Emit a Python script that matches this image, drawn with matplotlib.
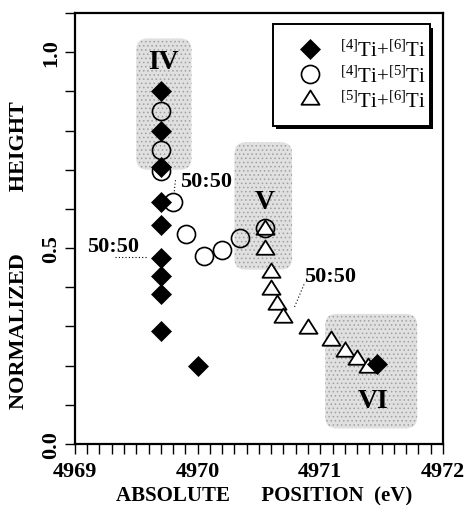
import matplotlib
matplotlib.use("Agg")
import matplotlib.pyplot as plt
from matplotlib.patches import FancyBboxPatch, Rectangle
from matplotlib.path import Path
from matplotlib.ticker import MultipleLocator, FixedLocator

plt.rcParams['font.family'] = ['Liberation Serif', 'DejaVu Serif']
plt.rcParams['mathtext.fontset'] = 'custom'
plt.rcParams['mathtext.rm'] = 'Liberation Serif'
plt.rcParams['mathtext.default'] = 'regular'
plt.rcParams['hatch.linewidth'] = 0.6

# ---- data ----
dia_x = [4969.70, 4969.70, 4969.70, 4969.70, 4969.70, 4969.70, 4969.70, 4969.70, 4969.70, 4970.00, 4971.46]
dia_y = [0.90, 0.80, 0.708, 0.618, 0.559, 0.475, 0.429, 0.383, 0.289, 0.198, 0.204]

circ_x = [4969.70, 4969.70, 4969.70, 4969.80, 4969.905, 4970.05, 4970.20, 4970.345, 4970.55]
circ_y = [0.850, 0.750, 0.697, 0.618, 0.537, 0.479, 0.496, 0.526, 0.550]

tri_x = [4970.55, 4970.55, 4970.595, 4970.60, 4970.65, 4970.70, 4970.90, 4971.09, 4971.20, 4971.30, 4971.39]
tri_y = [0.548, 0.497, 0.438, 0.395, 0.357, 0.323, 0.296, 0.266, 0.238, 0.217, 0.196]

labels = [r'$^{[4]}$Ti+$^{[6]}$Ti', r'$^{[4]}$Ti+$^{[5]}$Ti', r'$^{[5]}$Ti+$^{[6]}$Ti']

# shaded regions: (x0, y0, x1, y1, label, label_x, label_y)
regions = [
    (4969.50, 0.700, 4969.95, 1.035, 'IV', 4969.72, 0.975),
    (4970.30, 0.445, 4970.77, 0.770, 'V', 4970.55, 0.620),
    (4971.04, 0.040, 4971.79, 0.332, 'VI', 4971.43, 0.110),
]

# 50:50 annotations: text position, leader line start/end
ann_text = [(4970.07, 0.670), (4969.31, 0.505), (4971.08, 0.430)]
ann_line = [((4969.81, 0.645), (4969.82, 0.675)),
            ((4969.33, 0.476), (4969.59, 0.476)),
            ((4970.79, 0.350), (4970.875, 0.413))]

xticks = [4969, 4970, 4971, 4972]
yticks = [0.0, 0.5, 1.0]
ytick_labels = ['0.0', '0.5', '1.0']

# ---- figure ----
fig = plt.figure(figsize=(4.71, 5.06), dpi=100)
ax = fig.add_axes([0.159, 0.1206, 0.7816, 0.8517])
ax.set_xlim(4969, 4972)
ax.set_ylim(0, 1.1)

aspect = (1.1 / 431.0) / (3.0 / 368.0)
for x0, y0, x1, y1, lab, lx, ly in regions:
    p = FancyBboxPatch((x0, y0), x1 - x0, y1 - y0,
                       boxstyle='round,pad=0,rounding_size=0.09',
                       mutation_aspect=aspect,
                       facecolor='#e0e0e0', edgecolor='#a0a0a0', linewidth=0,
                       hatch='....', zorder=0.5)
    ax.add_patch(p)
    ax.text(lx, ly, lab, fontsize=20, fontweight='bold', ha='center', va='center', zorder=5)

for (tx, ty), ((lx0, ly0), (lx1, ly1)) in zip(ann_text, ann_line):
    ax.text(tx, ty, '50:50', fontsize=16, fontweight='bold', ha='center', va='center', zorder=5)
    ax.plot([lx0, lx1], [ly0, ly1], ls=(0, (1, 2)), color='black', lw=0.8, zorder=1)

tri_path = Path([(-1, -0.58), (1, -0.58), (0, 1.0), (-1, -0.58)],
                [Path.MOVETO, Path.LINETO, Path.LINETO, Path.CLOSEPOLY])

ax.plot(tri_x, tri_y, ls='none', marker=tri_path, ms=13, mfc='white', mec='black', mew=1.3,
        label=labels[2], zorder=3)
ax.plot(circ_x, circ_y, ls='none', marker='o', ms=13, mfc='none', mec='black', mew=1.2,
        label=labels[1], zorder=4)
ax.plot(dia_x, dia_y, ls='none', marker='D', ms=10, mfc='black', mec='black', mew=0.5,
        label=labels[0], zorder=3.5)

# legend frame with solid black drop shadow
lx0, lx1, ly0, ly1 = 0.538, 0.965, 0.738, 0.974
ax.add_patch(Rectangle((lx0 + 0.009, ly0 - 0.008), lx1 - lx0, ly1 - ly0, transform=ax.transAxes,
                       facecolor='black', edgecolor='black', lw=0, zorder=6))
ax.add_patch(Rectangle((lx0, ly0), lx1 - lx0, ly1 - ly0, transform=ax.transAxes,
                       facecolor='white', edgecolor='black', lw=1.4, zorder=6.1))

h, l = ax.get_legend_handles_labels()
order = [2, 1, 0]
leg = ax.legend([h[i] for i in order], [l[i] for i in order],
                loc='upper left', bbox_to_anchor=(0.599, 0.938), borderaxespad=0,
                frameon=False, prop={'size': 15}, handletextpad=0.72, borderpad=0,
                labelspacing=0.2, handlelength=1.4)
leg.set_zorder(7)

for s in ax.spines.values():
    s.set_linewidth(1.6)

ax.xaxis.set_major_locator(FixedLocator(xticks))
ax.xaxis.set_minor_locator(MultipleLocator(0.1))
ax.yaxis.set_major_locator(FixedLocator(yticks))
ax.yaxis.set_minor_locator(MultipleLocator(0.1))
ax.set_yticklabels(ytick_labels)
ax.tick_params(which='both', direction='out', length=7, width=1.0)
ax.tick_params(axis='x', which='major', pad=5, labelsize=16)
ax.tick_params(axis='y', which='major', pad=3, labelsize=16, labelrotation=90)
for t in ax.get_xticklabels() + ax.get_yticklabels():
    t.set_fontweight('bold')
for t in ax.get_yticklabels():
    t.set_va('center')

ax.set_xlabel('ABSOLUTE      POSITION  (eV)', fontsize=15, fontweight='bold')
ax.xaxis.set_label_coords(0.513, -0.096)
ax.set_ylabel('NORMALIZED           HEIGHT', fontsize=16, fontweight='bold')
ax.yaxis.set_label_coords(-0.125, 0.44)

fig.savefig('out.png', dpi=100)
